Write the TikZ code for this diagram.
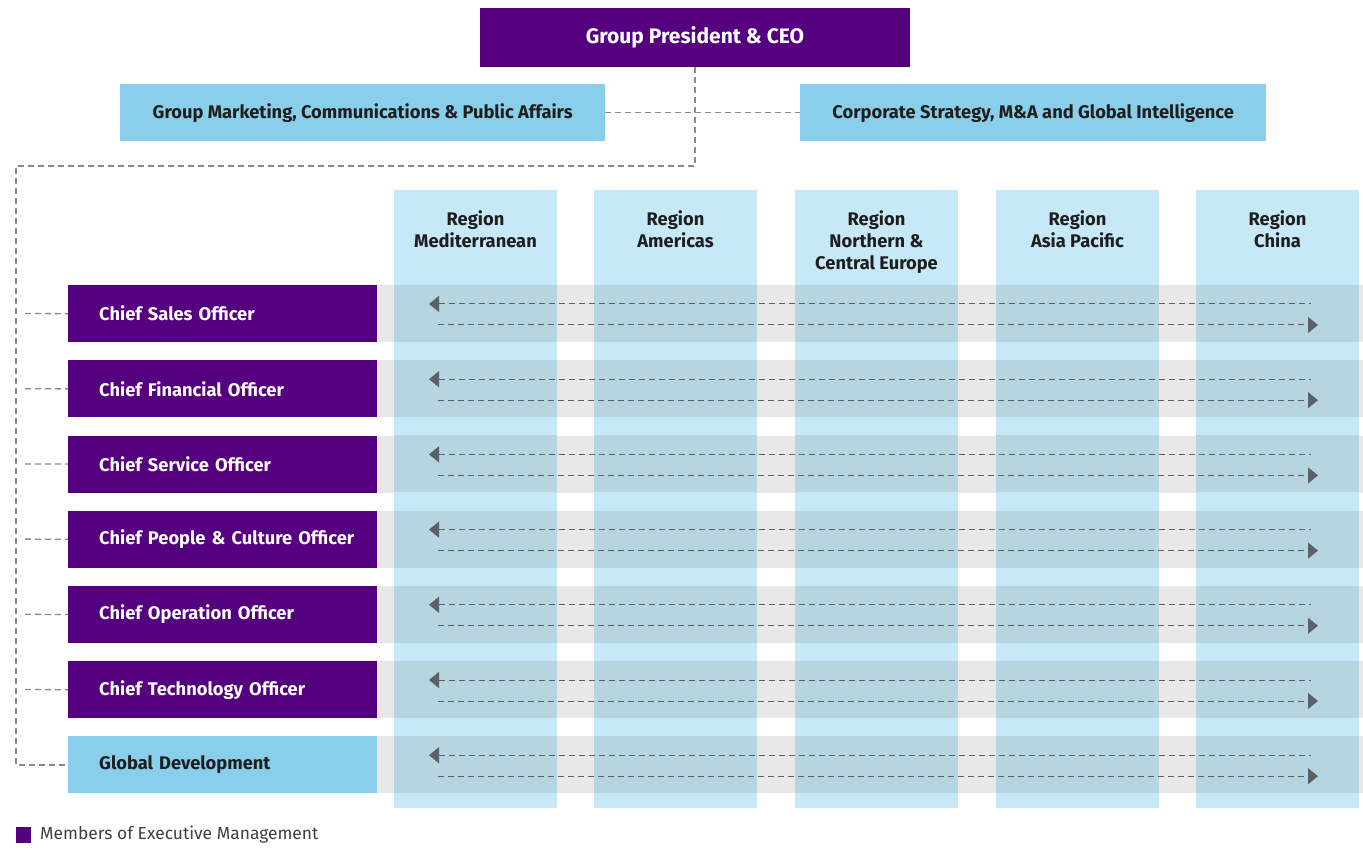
\documentclass[tikz,border=0pt]{standalone}
\usepackage{fontspec}
\setmainfont{Fira Sans}
\usetikzlibrary{arrows.meta,positioning}
\definecolor{execpurple}{HTML}{54007F}
\definecolor{staffblue}{HTML}{89CFEB}
\definecolor{regionblue}{HTML}{C6E8F7}
\definecolor{bandgrey}{HTML}{E8E8E8}
\definecolor{overlapblue}{HTML}{B6D5E0}
\definecolor{arrowgrey}{HTML}{5B6166}
\definecolor{linkgrey}{HTML}{8A8A8A}
\definecolor{inkgrey}{HTML}{1E1E1E}
\newcommand{\orgfont}{\fontsize{18.3}{22}\selectfont\bfseries}

\begin{document}
\begin{tikzpicture}[x=1pt,y=-1pt,>={Triangle[length=10pt,width=16pt]},
 exec/.style={fill=execpurple,text=white,minimum height=57pt,inner xsep=31pt,
  text width=247pt,align=left,anchor=north west,font=\orgfont},
 staff/.style={fill=staffblue,text=inkgrey,minimum height=57pt,anchor=north west,
  font=\orgfont},
 band/.style={fill=bandgrey,minimum width=986pt,minimum height=57pt,inner sep=0,
  anchor=north west},
 region/.style={fill=regionblue,minimum width=163pt,minimum height=618pt,inner sep=0,
  anchor=north},
 head/.style={font=\orgfont,text=inkgrey,align=center,inner sep=0},
 flow/.style={arrowgrey,line width=1pt,dash pattern=on 6pt off 4pt},
 link/.style={linkgrey,line width=1.3pt,dash pattern=on 6pt off 4pt}]
\useasboundingbox (0,0) rectangle (1363,850);
% top of the chart
\node[fill=execpurple,text=white,minimum width=430pt,minimum height=59pt,anchor=north,
 font=\fontsize{21}{24}\selectfont\bfseries] (ceo) at (695,8) {Group President \& CEO};
\node[staff,minimum width=485pt] (mkt) at (120,84) {Group Marketing, Communications \& Public Affairs};
\node[staff,minimum width=466pt] (strat) at (800,84) {Corporate Strategy, M\&A and Global Intelligence};
% grey bands behind the officer rows
\foreach \r in {1,...,7} {
 \node[band] (band\r) at (377,{285+75.2*(\r-1)}) {};
}
% region columns
\foreach \c/\x/\txt in {1/475.5/{Region\\Mediterranean},2/675.5/{Region\\Americas},
 3/876.5/{Region\\Northern \&\\Central Europe},4/1077.5/{Region\\Asia Pacific},
 5/1277.5/{Region\\China}} {
 \node[region] (col\c) at (\x,190) {};
 \node[head,below=20.5pt of col\c.north] (hd\c) {\txt};
 \foreach \r in {1,...,7} {
  \fill[overlapblue] ({\x-81.5},{285+75.2*(\r-1)}) rectangle ++(163,57);
 }
}
% officers
\foreach \r/\name/\kind in {1/Chief Sales Officer/exec,2/Chief Financial Officer/exec,
 3/Chief Service Officer/exec,4/Chief People \& Culture Officer/exec,
 5/Chief Operation Officer/exec,6/Chief Technology Officer/exec,
 7/Global Development/gd} {
 \ifnum\r<7
  \node[exec] (off\r) at (68,{285+75.2*(\r-1)}) {\mbox{\name}};
  \coordinate (stub\r) at (25,{313.5+75.2*(\r-1)});
  \draw[link] (stub\r) -- (off\r.west);
 \else
  \node[exec,fill=staffblue,text=inkgrey] (off\r) at (68,{285+75.2*(\r-1)}) {\mbox{\name}};
 \fi
 \coordinate (ul\r) at (429,{304+75.2*(\r-1)});
 \coordinate (ur\r) at (1311,{304+75.2*(\r-1)});
 \coordinate (ll\r) at (438,{325+75.2*(\r-1)});
 \coordinate (lr\r) at (1318,{325+75.2*(\r-1)});
 \draw[flow,<-] (ul\r) -- (ur\r);
 \draw[flow,->] (ll\r) -- (lr\r);
}
% reporting lines
\coordinate (turn) at (16,166);
\draw[link] (ceo.south) |- (turn) |- (off7.west);
\draw[link] (mkt.east) -- (strat.west);
% legend
\node[fill=execpurple,minimum size=15.5pt,inner sep=0] (key) at (23.5,835) {};
\node[right=8.5pt of key,inner sep=0,text=inkgrey!85,font=\fontsize{17.4}{20}\selectfont] (keytext)
 {Members of Executive Management};
\end{tikzpicture}
\end{document}
